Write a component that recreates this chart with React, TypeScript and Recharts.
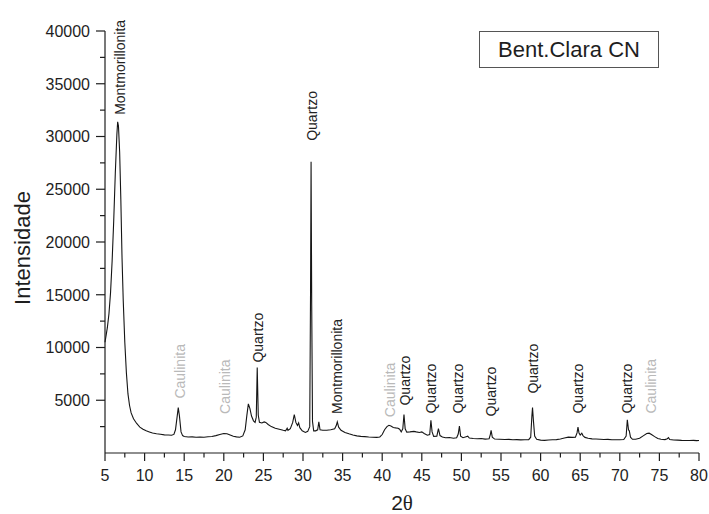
import { ComposedChart, Line, Scatter, XAxis, YAxis } from 'recharts';

// diffraction pattern (2θ in degrees, counts)
const twoTheta = [
  5.0, 5.15, 5.3, 5.5, 5.7, 5.9, 6.1, 6.3, 6.5, 6.6, 6.7, 6.85, 7.0, 7.15, 7.3, 7.5, 7.7, 7.9,
  8.1, 8.3, 8.6, 9.0, 9.4, 9.8, 10.2, 10.6, 11.0, 11.5, 12.0, 12.5, 13.0, 13.4, 13.7, 13.9,
  14.1, 14.25, 14.4, 14.6, 14.8, 15.0, 15.5, 16.0, 16.5, 17.0, 17.5, 18.0, 18.5, 19.0, 19.5,
  20.0, 20.4, 20.8, 21.2, 21.6, 22.0, 22.4, 22.7, 22.9, 23.1, 23.3, 23.5, 23.75, 23.95, 24.1,
  24.22, 24.35, 24.5, 24.8, 25.1, 25.3, 25.6, 26.0, 26.5, 27.0, 27.5, 27.8, 28.0, 28.1, 28.4,
  28.7, 28.9, 29.1, 29.3, 29.45, 29.6, 29.9, 30.3, 30.6, 30.85, 30.95, 31.02, 31.1, 31.2, 31.35,
  31.6, 31.85, 32.0, 32.15, 32.5, 33.0, 33.5, 34.0, 34.2, 34.33, 34.5, 34.8, 35.3, 35.8, 36.3,
  36.8, 37.3, 37.8, 38.3, 38.8, 39.3, 39.7, 40.0, 40.3, 40.6, 40.85, 41.1, 41.4, 41.7, 42.0,
  42.2, 42.4, 42.6, 42.75, 42.9, 43.1, 43.5, 44.0, 44.3, 44.7, 45.0, 45.3, 45.7, 46.0, 46.15,
  46.3, 46.5, 46.9, 47.1, 47.3, 47.6, 48.0, 48.5, 49.0, 49.4, 49.6, 49.75, 49.9, 50.2, 50.6,
  50.8, 51.0, 51.5, 52.0, 52.5, 53.0, 53.5, 53.65, 53.75, 53.9, 54.2, 54.8, 55.5, 56.0, 56.5,
  57.0, 57.5, 58.0, 58.5, 58.75, 58.9, 58.98, 59.1, 59.25, 59.5, 60.0, 60.5, 61.0, 61.5, 62.0,
  62.5, 63.0, 63.5, 64.0, 64.4, 64.6, 64.72, 64.85, 65.0, 65.2, 65.35, 65.6, 66.0, 66.5, 67.0,
  67.5, 68.0, 68.5, 69.0, 69.5, 70.0, 70.5, 70.8, 70.95, 71.1, 71.2, 71.35, 71.6, 72.0, 72.5,
  73.0, 73.4, 73.7, 74.0, 74.4, 74.8, 75.2, 75.7, 76.0, 76.15, 76.3, 76.8, 77.3, 77.8, 78.3,
  78.8, 79.3, 79.7, 80.0,
];

const intensity = [
  10500, 11200, 11900, 13200, 15200, 18200, 22000, 26500, 30200, 31400, 31000, 28500, 24000, 18500, 14500, 10500, 7600, 5600,
  4500, 3800, 3250, 2800, 2450, 2250, 2100, 2000, 1900, 1830, 1780, 1720, 1700, 1680, 1760, 2200,
  3400, 4300, 3500, 2000, 1650, 1560, 1520, 1530, 1490, 1510, 1500, 1540, 1560, 1650, 1750,
  1850, 1820, 1700, 1580, 1530, 1500, 1620, 2200, 3500, 4650, 4200, 3500, 3050, 2900, 3400,
  8100, 3600, 2900, 2850, 2950, 2900, 2700, 2500, 2350, 2250, 2150, 2100, 2350, 2150, 2300,
  2900, 3650, 2900, 2600, 2850, 2400, 2100, 1950, 2050, 2500, 15000, 27600, 14000, 3000, 2100,
  2100, 2200, 2950, 2200, 2150, 2150, 2200, 2300, 2600, 2950, 2450, 2150, 1950, 1820, 1700,
  1620, 1580, 1550, 1520, 1500, 1480, 1520, 1750, 2200, 2500, 2620, 2550, 2420, 2380, 2350,
  2250, 2000, 2300, 3650, 2300, 1980, 2000, 2050, 2000, 1950, 2000, 1850, 1680, 1750, 3100,
  2000, 1580, 1600, 2300, 1650, 1520, 1450, 1470, 1400, 1450, 1800, 2550, 1600, 1450, 1550,
  1600, 1420, 1380, 1350, 1370, 1320, 1350, 1750, 2150, 1500, 1320, 1300, 1280, 1290, 1260,
  1270, 1240, 1250, 1260, 1500, 3500, 4300, 3000, 1600, 1300, 1220, 1200, 1230, 1250, 1270,
  1330, 1420, 1500, 1480, 1500, 1900, 2450, 1900, 1700, 1880, 1650, 1480, 1400, 1340, 1320,
  1300, 1280, 1290, 1260, 1250, 1260, 1280, 1600, 3150, 2200, 2100, 1500, 1300, 1300, 1400,
  1650, 1850, 1880, 1750, 1550, 1380, 1300, 1270, 1350, 1450, 1280, 1230, 1220, 1200, 1190,
  1180, 1200, 1170, 1180,
];

// phase labels: name, 2θ position, height where the label starts, shade
const peakNames = [
  'Montmorillonita', 'Caulinita', 'Caulinita', 'Quartzo', 'Quartzo', 'Montmorillonita', 'Caulinita',
  'Quartzo', 'Quartzo', 'Quartzo', 'Quartzo', 'Quartzo', 'Quartzo', 'Quartzo', 'Caulinita',
];
const peakTheta = [6.9, 14.5, 20.2, 24.3, 31.1, 34.3, 41.0, 42.9, 46.2, 49.6, 53.7, 59.0, 64.7, 70.9, 73.9];
const peakBase = [32050, 5160, 3700, 8570, 29590, 3700, 3400, 4500, 3740, 3740, 3460, 5630, 3740, 3740, 3740];
const peakFaint = [false, true, true, false, false, false, true, false, false, false, false, false, false, false, true];

const xTicks = [
  5, 7.5, 10, 12.5, 15, 17.5, 20, 22.5, 25, 27.5, 30, 32.5, 35, 37.5, 40, 42.5,
  45, 47.5, 50, 52.5, 55, 57.5, 60, 62.5, 65, 67.5, 70, 72.5, 75, 77.5, 80,
];
const yTicks = [
  2500, 5000, 7500, 10000, 12500, 15000, 17500, 20000, 22500, 25000, 27500, 30000, 32500,
  35000, 37500, 40000,
];

const spectrum = twoTheta.map((x, i) => ({ x, y: intensity[i] }));
const peaks = peakNames.map((name, i) => ({ name, x: peakTheta[i], y: peakBase[i], faint: peakFaint[i] }));

const INK = '#1e1e1e';

function XTick({ x, y, payload }: any) {
  const v = payload.value;
  const major = v % 5 === 0;
  return (
    <g>
      <line x1={x} x2={x} y1={y} y2={y + (major ? 8 : 4.5)} stroke={INK} strokeWidth={1.2} />
      {major && (
        <text x={x} y={y + 28} textAnchor="middle" fontSize={16} fill={INK}>
          {v}
        </text>
      )}
    </g>
  );
}

function YTick({ x, y, payload }: any) {
  const v = payload.value;
  const major = v % 5000 === 0;
  return (
    <g>
      <line x1={x} x2={x - (major ? 9 : 5)} y1={y} y2={y} stroke={INK} strokeWidth={1.2} />
      {major && (
        <text x={x - 15} y={y} dy="0.36em" textAnchor="end" fontSize={16} fill={INK}>
          {v}
        </text>
      )}
    </g>
  );
}

function PeakLabel({ cx, cy, payload }: any) {
  return (
    <text
      transform={`translate(${cx},${cy}) rotate(-90)`}
      dominantBaseline="central"
      fontSize={14}
      fill={payload.faint ? '#b9b9b9' : '#222'}
    >
      {payload.name}
    </text>
  );
}

export default function App() {
  return (
    <div style={{ position: 'absolute', left: 0, top: 0, width: 709, height: 514, background: '#fff', fontFamily: '"Liberation Sans", Arial, sans-serif' }}>
      <ComposedChart width={709} height={514} data={spectrum} margin={{ top: 31, right: 10, bottom: 21, left: 0 }}>
        <XAxis
          dataKey="x"
          type="number"
          domain={[5, 80]}
          ticks={xTicks}
          interval={0}
          tickLine={false}
          tickSize={0}
          tickMargin={0}
          tick={<XTick />}
          height={40}
          stroke={INK}
          strokeWidth={1.2}
          label={() => (
            <text x={402} y={510} textAnchor="middle" fontSize={21} fill={INK}>
              2<tspan fontFamily='"Liberation Serif", serif'>θ</tspan>
            </text>
          )}
        />
        <YAxis
          dataKey="y"
          type="number"
          domain={[0, 40000]}
          ticks={yTicks}
          interval={0}
          tickLine={false}
          tickSize={0}
          tickMargin={0}
          tick={<YTick />}
          width={105}
          stroke={INK}
          strokeWidth={1.2}
          label={() => (
            <text transform="translate(30,248) rotate(-90)" textAnchor="middle" fontSize={22} fill={INK}>
              Intensidade
            </text>
          )}
        />
        <Line dataKey="y" type="linear" stroke="#151515" strokeWidth={1.1} dot={false} isAnimationActive={false} />
        <Scatter data={peaks} dataKey="y" shape={<PeakLabel />} isAnimationActive={false} />
      </ComposedChart>
      <div
        style={{
          position: 'absolute',
          left: 479,
          top: 31,
          width: 178,
          height: 35,
          border: '1px solid #555',
          display: 'flex',
          alignItems: 'center',
          justifyContent: 'center',
          fontSize: 22,
          color: INK,
        }}
      >
        Bent.Clara CN
      </div>
    </div>
  );
}
